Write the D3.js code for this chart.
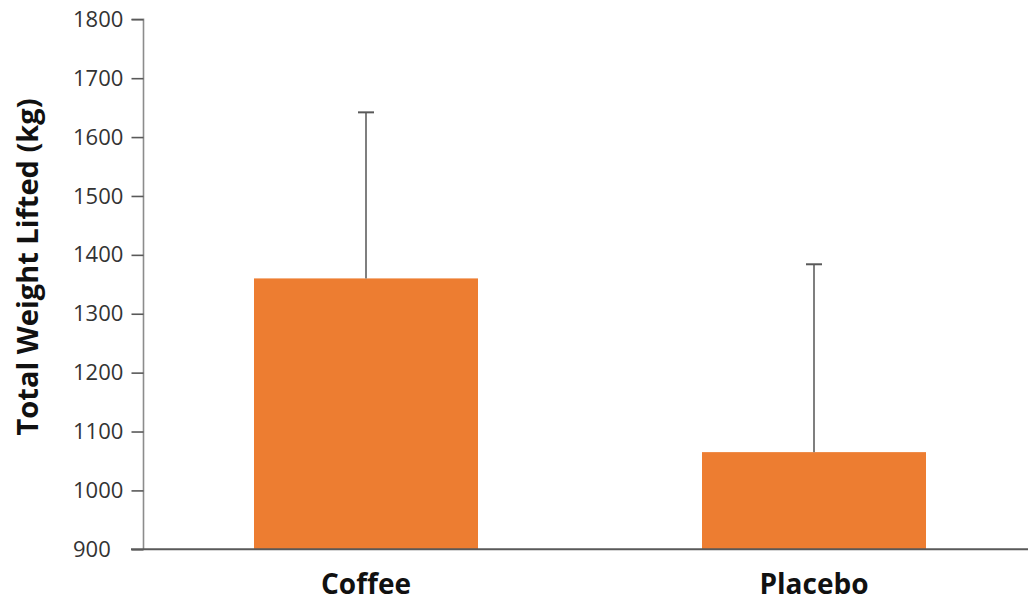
<!DOCTYPE html>
<html>
<head>
<meta charset="utf-8">
<script src="https://cdn.jsdelivr.net/npm/d3@7"></script>
<style>
  html, body { margin: 0; padding: 0; background: #fff; }
  svg { display: block; }
</style>
</head>
<body>
<svg id="chart" width="1028" height="602"></svg>
<script>
// Total weight lifted per condition, with the upper standard-deviation whisker
const groups = ["Coffee", "Placebo"];
const means = [1360, 1065];
const sds = [282, 319];
const yTicks = [900, 1000, 1100, 1200, 1300, 1400, 1500, 1600, 1700, 1800];

const svg = d3.select("#chart");
const font = "'Open Sans', 'Liberation Sans', sans-serif";

const x = d3.scaleBand()
  .domain(groups)
  .range([142, 1038])
  .paddingInner(0.5)
  .paddingOuter(0.25);

const y = d3.scaleLinear()
  .domain([900, 1800])
  .range([549.3, 19.3]);

const data = groups.map((g, i) => ({ group: g, mean: means[i], sd: sds[i] }));

// bars
svg.append("g")
  .selectAll("rect")
  .data(data)
  .join("rect")
  .attr("x", d => x(d.group))
  .attr("width", x.bandwidth())
  .attr("y", d => y(d.mean))
  .attr("height", d => y(900) - y(d.mean))
  .attr("fill", "#ED7D31");

// upper error whiskers
const err = svg.append("g")
  .attr("stroke", "#7f7f7f")
  .attr("stroke-width", 2);
err.selectAll("line.stem")
  .data(data)
  .join("line")
  .attr("class", "stem")
  .attr("x1", d => x(d.group) + x.bandwidth() / 2)
  .attr("x2", d => x(d.group) + x.bandwidth() / 2)
  .attr("y1", d => y(d.mean))
  .attr("y2", d => y(d.mean + d.sd));
err.selectAll("line.cap")
  .data(data)
  .join("line")
  .attr("class", "cap")
  .attr("x1", d => x(d.group) + x.bandwidth() / 2 - 8)
  .attr("x2", d => x(d.group) + x.bandwidth() / 2 + 8)
  .attr("y1", d => y(d.mean + d.sd))
  .attr("y2", d => y(d.mean + d.sd))
  .attr("stroke", "#595959");

// y axis, labels set flush left in a column
const yAxis = svg.append("g")
  .attr("transform", "translate(143.5,0)")
  .call(d3.axisLeft(y).tickValues(yTicks).tickSize(12).tickPadding(6).tickFormat(d3.format("d")));
yAxis.select(".domain").attr("stroke", "#8c8c8c").attr("stroke-width", 1.6)
  .attr("d", `M-12,${y(1800)}H0V${y(900)}`);
yAxis.selectAll(".tick line").attr("stroke", "#595959").attr("stroke-width", 1.6);
yAxis.selectAll(".tick text")
  .attr("x", -70.5)
  .attr("text-anchor", "start")
  .attr("fill", "#333")
  .style("font-family", font)
  .style("font-size", "22px");

// x axis baseline, running to the right edge
svg.append("line")
  .attr("x1", 131).attr("x2", 1028)
  .attr("y1", y(900)).attr("y2", y(900))
  .attr("stroke", "#595959")
  .attr("stroke-width", 2);

// category labels
svg.append("g")
  .selectAll("text")
  .data(groups)
  .join("text")
  .attr("x", d => x(d) + x.bandwidth() / 2)
  .attr("y", 594)
  .attr("text-anchor", "middle")
  .style("font-family", font)
  .style("font-weight", "bold")
  .style("font-size", "28px")
  .attr("fill", "#111")
  .text(d => d);

// y axis title
svg.append("text")
  .attr("transform", "translate(38,267) rotate(-90)")
  .attr("text-anchor", "middle")
  .style("font-family", font)
  .style("font-weight", "bold")
  .style("font-size", "29px")
  .attr("fill", "#111")
  .text("Total Weight Lifted (kg)");
</script>
</body>
</html>
